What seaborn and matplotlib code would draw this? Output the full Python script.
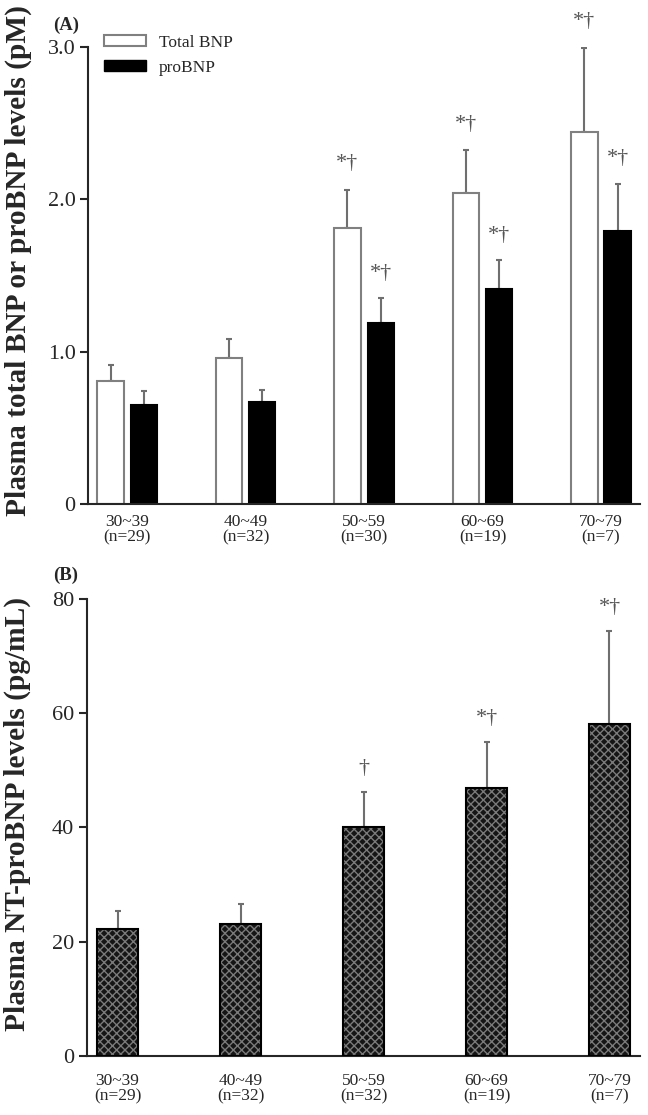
import matplotlib
matplotlib.use('Agg')
import matplotlib.pyplot as plt
import seaborn as sns
import pandas as pd
import numpy as np
from matplotlib.patches import Patch

# 데이터
age_a = ['30~39\n(n=29)', '40~49\n(n=32)', '50~59\n(n=30)', '60~69\n(n=19)', '70~79\n(n=7)']
age_b = ['30~39\n(n=29)', '40~49\n(n=32)', '50~59\n(n=32)', '60~69\n(n=19)', '70~79\n(n=7)']
series_names = ['Total BNP', 'proBNP']
total_bnp = [0.81, 0.96, 1.81, 2.04, 2.44]
total_bnp_se = [0.10, 0.12, 0.25, 0.28, 0.55]
probnp = [0.65, 0.67, 1.19, 1.41, 1.79]
probnp_se = [0.09, 0.08, 0.16, 0.19, 0.31]
sig_total = ['', '', '*†', '*†', '*†']
sig_pro = ['', '', '*†', '*†', '*†']
nt_probnp = [22.2, 23.1, 40.0, 46.9, 58.1]
nt_probnp_se = [3.2, 3.5, 6.1, 8.1, 16.3]
sig_nt = ['', '', '†', '*†', '*†']

sns.set_style('ticks')
plt.rcParams['font.family'] = ['Liberation Serif', 'DejaVu Serif']
plt.rcParams['hatch.linewidth'] = 1.0

df_a = pd.DataFrame({
    'age': age_a * 2,
    'series': [series_names[0]] * 5 + [series_names[1]] * 5,
    'value': total_bnp + probnp,
})
df_b = pd.DataFrame({'age': age_b, 'value': nt_probnp})

fig = plt.figure(figsize=(6.48, 11.15), dpi=100)
ax1 = fig.add_axes([0.1358, 0.548, 0.852, 0.41])
ax2 = fig.add_axes([0.134, 0.053, 0.854, 0.41])

# 에러바 + 유의성 표시
def add_err(ax, bars, se, sig, off):
    xs = [p.get_x() + p.get_width() / 2 for p in bars]
    ys = [p.get_height() for p in bars]
    ax.errorbar(xs, ys, yerr=[np.zeros(len(se)), se], fmt='none',
                ecolor='#6f6f6f', elinewidth=1.5, capsize=2.5, capthick=1.5, zorder=1)
    for x, y, e, s in zip(xs, ys, se, sig):
        if s:
            ax.annotate(s, xy=(x, y + e), xytext=(0, off), textcoords='offset points',
                        ha='center', va='center', fontsize=16, color='#555555',
                        annotation_clip=False)

# (A) total BNP / proBNP
sns.barplot(data=df_a, x='age', y='value', hue='series', hue_order=series_names,
            palette={'Total BNP': 'white', 'proBNP': 'black'}, width=0.56, gap=0.21,
            errorbar=None, legend=False, ax=ax1, zorder=2)
for cont, col in zip(ax1.containers, ['#808080', 'black']):
    for p in cont:
        p.set_edgecolor(col)
        p.set_linewidth(1.5)
add_err(ax1, ax1.containers[0], total_bnp_se, sig_total, 19)
add_err(ax1, ax1.containers[1], probnp_se, sig_pro, 18)

ax1.set_xlim(-0.33, 4.33)
ax1.set_ylim(0, 3.0)
ax1.set_yticks([0, 1.0, 2.0, 3.0])
ax1.set_yticklabels(['0', '1.0', '2.0', '3.0'])
ax1.set_xlabel('')
ax1.set_ylabel('Plasma total BNP or proBNP levels (pM)', fontsize=21.2, fontweight='bold')
ax1.yaxis.set_label_coords(-0.101, 0.532)
ax1.text(-0.063, 1.046, '(A)', transform=ax1.transAxes, fontsize=13.5,
         fontweight='bold', va='center')

handles = [Patch(facecolor='white', edgecolor='#808080', linewidth=1.5),
           Patch(facecolor='black', edgecolor='black')]
ax1.legend(handles, series_names, loc='upper left', bbox_to_anchor=(0.0, 1.06),
           frameon=False, fontsize=12.5, handlelength=2.45, handleheight=0.6,
           labelspacing=0.5, handletextpad=0.75)

# (B) NT-proBNP
sns.barplot(data=df_b, x='age', y='value', color='#151515', width=0.34,
            errorbar=None, ax=ax2, zorder=2)
for p in ax2.patches:
    p.set_hatch('xxxx')
    p.set_edgecolor('#7a7a7a')
    p.set_linewidth(0)
sns.barplot(data=df_b, x='age', y='value', fill=False, width=0.34,
            errorbar=None, ax=ax2, zorder=3, edgecolor='black', linewidth=1.5)
add_err(ax2, ax2.patches[:5], nt_probnp_se, sig_nt, 17)

ax2.set_xlim(-0.25, 4.25)
ax2.set_ylim(0, 80)
ax2.set_yticks([0, 20, 40, 60, 80])
ax2.set_xlabel('')
ax2.set_ylabel('Plasma NT-proBNP levels (pg/mL)', fontsize=21.2, fontweight='bold')
ax2.yaxis.set_label_coords(-0.101, 0.53)
ax2.text(-0.061, 1.052, '(B)', transform=ax2.transAxes, fontsize=13.5,
         fontweight='bold', va='center')

for ax, xpad in ((ax1, 7), (ax2, 12)):
    sns.despine(ax=ax)
    ax.spines['left'].set_linewidth(1.5)
    ax.spines['bottom'].set_linewidth(1.5)
    ax.tick_params(axis='x', length=0, labelsize=12.5, pad=xpad)
    ax.tick_params(axis='y', length=6, width=1.5, labelsize=16, pad=3)
    for lab in ax.get_xticklabels():
        lab.set_linespacing(1.0)

fig.savefig('out.png', dpi=100)
